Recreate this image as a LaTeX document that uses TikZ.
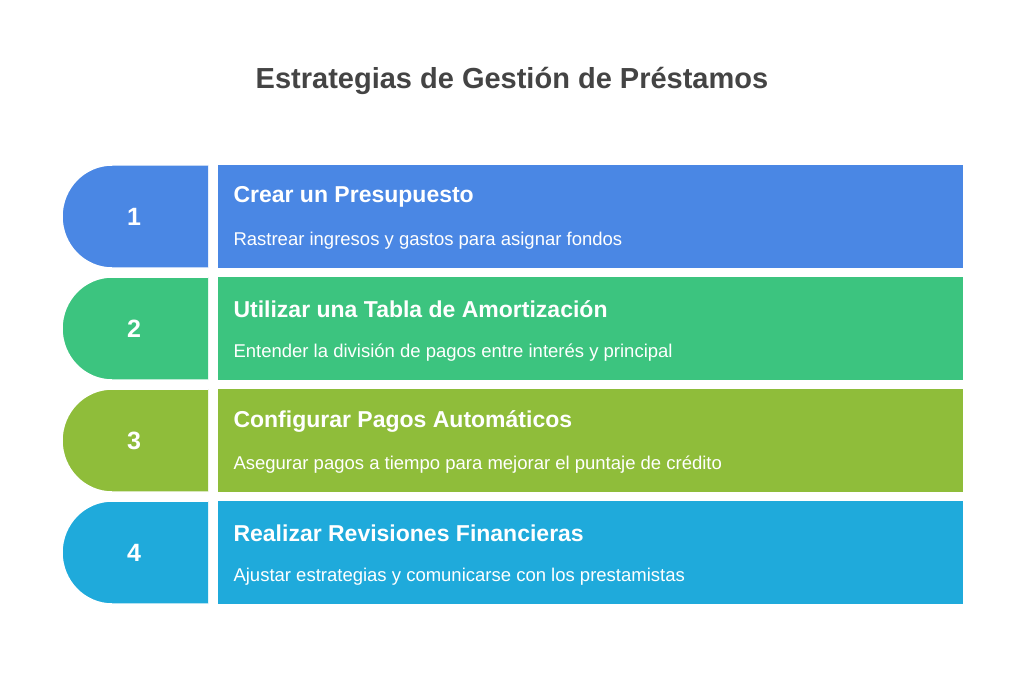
\documentclass[tikz,border=0pt]{standalone}
\usepackage{fontspec}
\setmainfont{Liberation Sans}
\definecolor{cA}{HTML}{4A87E4}
\definecolor{cB}{HTML}{3CC47F}
\definecolor{cC}{HTML}{8FBD3A}
\definecolor{cD}{HTML}{1FAADB}
\definecolor{ink}{HTML}{444444}
\tikzset{
  num/.style={text=white, font=\fontsize{25}{29}\selectfont\bfseries},
  head/.style={text=white, anchor=west, font=\fontsize{23}{27}\selectfont\bfseries},
  sub/.style={text=white, anchor=west, font=\fontsize{18.5}{22}\selectfont}
}
\begin{document}
\begin{tikzpicture}[x=1pt, y=-1pt]
\useasboundingbox[fill=white] (0,0) rectangle (1024,695);
\node[text=ink, font=\fontsize{29}{34}\selectfont\bfseries] (title) at (512,81) {Estrategias de Gestión de Préstamos};

\foreach \i/\c/\h/\s [count=\k from 0] in {
 1/cA/Crear un Presupuesto/Rastrear ingresos y gastos para asignar fondos,
 2/cB/Utilizar una Tabla de Amortización/Entender la división de pagos entre interés y principal,
 3/cC/Configurar Pagos Automáticos/Asegurar pagos a tiempo para mejorar el puntaje de crédito,
 4/cD/Realizar Revisiones Financieras/Ajustar estrategias y comunicarse con los prestamistas}
{
 \pgfmathsetmacro{\t}{165+112*\k}
 \fill[\c] (208,\t) -- (112,\t) arc[start angle=90, end angle=270, x radius=50, y radius=-51.5] -- (208,\t+103) -- cycle;
 \draw[white, line width=1.5pt] (208,\t) -- (112,\t) arc[start angle=90, end angle=270, x radius=50, y radius=-51.5] -- (208,\t+103);
 \fill[\c] (218,\t) rectangle (963,\t+103);
 \node[num] (n\i) at (134,\t+51.5) {\i};
 \node[head] (h\i) at (230,\t+32) {\h};
 \node[sub] (s\i) at (230,\t+76) {\s};
}
\end{tikzpicture}
\end{document}
